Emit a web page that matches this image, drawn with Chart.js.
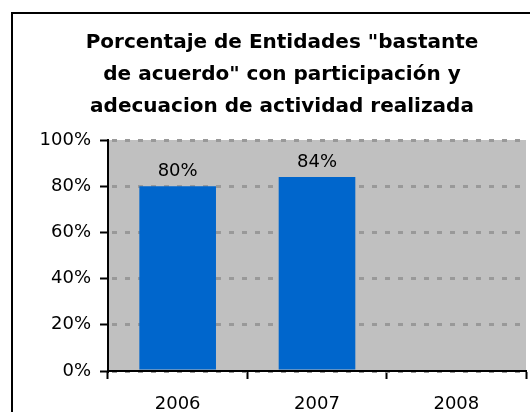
<!DOCTYPE html>
<html>
<head>
<meta charset="utf-8">
<script src="https://cdn.jsdelivr.net/npm/chart.js@4/dist/chart.umd.min.js"></script>
<style>
    html, body { margin: 0; padding: 0; background: #fff; overflow: hidden; }
    #wrap { position: relative; width: 530px; height: 412px; }
    #frame { position: absolute; left: 11px; top: 12px; width: 600px; height: 500px; border: 2px solid #000; pointer-events: none; }
</style>
</head>
<body>
<div id="wrap">
    <canvas id="chartEnt" width="530" height="412"></canvas>
    <div id="frame"></div>
</div>
<script>
// ==============================
// Data
// ==============================
const years = ['2006', '2007', '2008'];
const pctAcuerdo = [80, 84, null];
const yTicks = [0, 20, 40, 60, 80, 100];
const titleLines = [
    'Porcentaje de Entidades "bastante',
    'de acuerdo" con participación y',
    'adecuacion de actividad realizada'
];

const FONT = "'DejaVu Sans', sans-serif";

// ==============================
// Plugins
// ==============================
const plotBg = {
    id: 'plotBg',
    beforeDraw(chart) {
        const { ctx, chartArea: a } = chart;
        ctx.save();
        ctx.fillStyle = '#c0c0c0';
        ctx.fillRect(a.left, a.top, a.right - a.left, a.bottom - a.top);
        ctx.restore();
    }
};

const barLabels = {
    id: 'barLabels',
    afterDatasetsDraw(chart) {
        const ctx = chart.ctx;
        const meta = chart.getDatasetMeta(0);
        ctx.save();
        ctx.font = `18px ${FONT}`;
        ctx.fillStyle = '#000';
        ctx.textAlign = 'center';
        ctx.textBaseline = 'alphabetic';
        meta.data.forEach((bar, i) => {
            const v = pctAcuerdo[i];
            if (v == null) return;
            ctx.fillText(v + '%', bar.x, bar.y - 10);
        });
        ctx.restore();
    }
};

// ==============================
// Chart
// ==============================
function renderChart() {
    const ctx = document.getElementById('chartEnt').getContext('2d');
    new Chart(ctx, {
        type: 'bar',
        data: {
            labels: years,
            datasets: [{
                data: pctAcuerdo,
                backgroundColor: '#0066cc',
                categoryPercentage: 1,
                barPercentage: 0.55
            }]
        },
        options: {
            responsive: false,
            animation: false,
            layout: { padding: { left: 38, right: 4, top: 0, bottom: 0 } },
            plugins: {
                legend: { display: false },
                tooltip: { enabled: false },
                title: {
                    display: true,
                    text: titleLines,
                    color: '#000',
                    font: { family: FONT, size: 20, weight: 'bold', lineHeight: 1.6 },
                    padding: { top: 27, bottom: 17 }
                }
            },
            scales: {
                x: {
                    grid: {
                        offset: true,
                        drawOnChartArea: false,
                        drawTicks: true,
                        tickLength: 8,
                        tickColor: '#000',
                        tickWidth: 2
                    },
                    border: { color: '#000', width: 2 },
                    ticks: { color: '#000', font: { family: FONT, size: 18 }, padding: 15 },
                    afterFit(s) { s.height = 41; }
                },
                y: {
                    min: 0,
                    max: 100,
                    afterBuildTicks(s) { s.ticks = yTicks.map(v => ({ value: v })); },
                    grid: {
                        color: '#999999',
                        lineWidth: 3,
                        drawTicks: true,
                        tickLength: 8,
                        tickColor: '#000',
                        tickWidth: 2,
                        tickBorderDash: []
                    },
                    border: { color: '#000', width: 2, dash: [5, 8], dashOffset: 10 },
                    ticks: {
                        color: '#000',
                        font: { family: FONT, size: 18 },
                        padding: 9,
                        callback: v => v + '%'
                    },
                    afterFit(s) { s.width = 70; }
                }
            }
        },
        plugins: [plotBg, barLabels]
    });
}

renderChart();
</script>
</body>
</html>
